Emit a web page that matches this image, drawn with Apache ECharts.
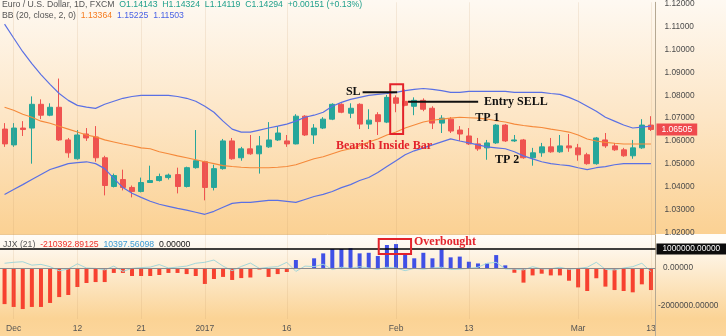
<!DOCTYPE html>
<html>
<head>
<meta charset="utf-8">
<title>EUR/USD daily — Bollinger Bands inside-bar setup</title>
<script src="https://cdn.jsdelivr.net/npm/echarts@6/dist/echarts.min.js"></script>
<style>
  html, body { margin: 0; padding: 0; background: #fff; }
  #chart { width: 726px; height: 336px; }
</style>
</head>
<body>
<div id="chart"></div>
<script>
// ---- trading sessions (EUR/USD, FXCM daily) ----
const dates = [
  '2016-11-30','2016-12-01','2016-12-02','2016-12-05','2016-12-06','2016-12-07','2016-12-08','2016-12-09',
  '2016-12-12','2016-12-13','2016-12-14','2016-12-15','2016-12-16','2016-12-19','2016-12-20','2016-12-21',
  '2016-12-22','2016-12-23','2016-12-27','2016-12-28','2016-12-29','2016-12-30','2017-01-03','2017-01-04',
  '2017-01-05','2017-01-06','2017-01-09','2017-01-10','2017-01-11','2017-01-12','2017-01-13','2017-01-16',
  '2017-01-17','2017-01-18','2017-01-19','2017-01-20','2017-01-23','2017-01-24','2017-01-25','2017-01-26',
  '2017-01-27','2017-01-30','2017-01-31','2017-02-01','2017-02-02','2017-02-03','2017-02-06','2017-02-07',
  '2017-02-08','2017-02-09','2017-02-10','2017-02-13','2017-02-14','2017-02-15','2017-02-16','2017-02-17',
  '2017-02-20','2017-02-21','2017-02-22','2017-02-23','2017-02-24','2017-02-27','2017-02-28','2017-03-01',
  '2017-03-02','2017-03-03','2017-03-06','2017-03-07','2017-03-08','2017-03-09','2017-03-10','2017-03-13'
];

// time-axis labels
const tickDates = ['2016-12-01','2016-12-12','2016-12-21','2017-01-03','2017-01-16','2017-02-01','2017-02-13','2017-03-01','2017-03-13'];
const tickTexts = ['Dec','12','21','2017','16','Feb','13','Mar','13'];

// ---- price bars ----
const open = [
  1.06523,1.05829,1.06567,1.06567,1.07607,1.07130,1.07477,1.06046,1.05222,1.06306,
  1.06176,1.05266,1.04008,1.04312,1.03965,1.03791,1.04182,1.04268,1.04398,1.04528,
  1.04008,1.04832,1.05092,1.03965,1.04789,1.06003,1.05266,1.05656,1.05439,1.05743,
  1.06046,1.06003,1.05873,1.07087,1.06263,1.06567,1.06957,1.07607,1.07217,1.07607,
  1.06740,1.07152,1.06827,1.07889,1.07737,1.07521,1.07781,1.07434,1.06783,1.06957,
  1.06480,1.06220,1.05873,1.05699,1.05916,1.06697,1.06003,1.06046,1.05266,1.05483,
  1.05743,1.05526,1.05786,1.05699,1.05396,1.05006,1.06046,1.05786,1.05613,1.05352,
  1.05699,1.06697
];
const high = [
  1.06783,1.06783,1.06870,1.07954,1.07824,1.07651,1.08735,1.06133,1.06480,1.06567,
  1.06653,1.05352,1.04572,1.04745,1.04051,1.04398,1.04919,1.04572,1.04572,1.04832,
  1.04875,1.06480,1.05136,1.04962,1.06090,1.06133,1.05743,1.06263,1.06220,1.06827,
  1.06653,1.06263,1.07174,1.07130,1.06740,1.07044,1.07651,1.07651,1.07651,1.07651,
  1.07391,1.07260,1.08019,1.07998,1.08258,1.07911,1.07868,1.07521,1.07130,1.07044,
  1.06653,1.06567,1.06133,1.06046,1.06740,1.06740,1.06263,1.06090,1.05699,1.05916,
  1.06133,1.06263,1.06306,1.05873,1.05483,1.06176,1.06350,1.05916,1.05699,1.06046,
  1.06957,1.07087
];
const low = [
  1.05743,1.05743,1.06220,1.05006,1.06957,1.07087,1.06003,1.05266,1.05179,1.06003,
  1.05092,1.03618,1.03965,1.03835,1.03531,1.03748,1.04160,1.04225,1.04312,1.03705,
  1.03965,1.04789,1.03401,1.03835,1.04745,1.05179,1.05136,1.05396,1.04572,1.05699,
  1.06003,1.05743,1.05851,1.06220,1.05873,1.06523,1.06914,1.07217,1.07000,1.06523,
  1.06523,1.06263,1.06783,1.07260,1.07521,1.07130,1.07304,1.06523,1.06350,1.06350,
  1.06003,1.05829,1.05569,1.05179,1.05873,1.05960,1.05960,1.05222,1.04919,1.05309,
  1.05483,1.05483,1.05526,1.05136,1.04962,1.04962,1.05699,1.05569,1.05309,1.05222,
  1.05656,1.06437
];
const close = [
  1.05873,1.06567,1.06502,1.07607,1.07130,1.07477,1.06046,1.05483,1.06263,1.06133,
  1.05266,1.04051,1.04485,1.03965,1.03791,1.04182,1.04268,1.04442,1.04506,1.04008,
  1.04832,1.05136,1.03965,1.04789,1.06003,1.05222,1.05656,1.05439,1.05786,1.06046,
  1.06350,1.05873,1.07087,1.06263,1.06567,1.06957,1.07607,1.07260,1.07434,1.06740,
  1.06914,1.06849,1.07911,1.07651,1.07564,1.07781,1.07391,1.06783,1.07000,1.06437,
  1.06306,1.05873,1.05656,1.05916,1.06697,1.06003,1.06046,1.05266,1.05483,1.05743,
  1.05526,1.05786,1.05699,1.05396,1.05006,1.06133,1.05786,1.05613,1.05352,1.05699,
  1.06697,1.06505
];

// ---- Bollinger Bands (20, close, 2) ----
const bbUpper = [
  1.1112,1.1051,1.0991,1.0939,1.0891,1.0848,1.0808,1.0778,1.0756,1.0748,
  1.0743,1.0761,1.0774,1.0787,1.0795,1.0800,1.0800,1.0800,1.0800,1.0795,
  1.0787,1.0774,1.0752,1.0726,1.0687,1.0652,1.0639,1.0639,1.0648,1.0657,
  1.0665,1.0674,1.0687,1.0704,1.0713,1.0726,1.0752,1.0769,1.0782,1.0791,
  1.0800,1.0804,1.0808,1.0813,1.0821,1.0826,1.0830,1.0826,1.0821,1.0813,
  1.0813,1.0817,1.0817,1.0817,1.0817,1.0817,1.0813,1.0813,1.0813,1.0813,
  1.0808,1.0804,1.0791,1.0774,1.0752,1.0730,1.0704,1.0687,1.0670,1.0657,
  1.0661,1.0665
];
const bbBasis = [
  1.0748,1.0735,1.0717,1.0704,1.0687,1.0678,1.0665,1.0652,1.0639,1.0626,
  1.0618,1.0605,1.0596,1.0587,1.0579,1.0570,1.0566,1.0553,1.0544,1.0535,
  1.0527,1.0518,1.0509,1.0501,1.0492,1.0488,1.0485,1.0483,1.0483,1.0483,
  1.0485,1.0488,1.0496,1.0509,1.0522,1.0531,1.0544,1.0557,1.0566,1.0579,
  1.0596,1.0609,1.0626,1.0639,1.0657,1.0670,1.0683,1.0691,1.0696,1.0700,
  1.0704,1.0702,1.0700,1.0696,1.0689,1.0683,1.0674,1.0668,1.0663,1.0659,
  1.0652,1.0646,1.0639,1.0626,1.0609,1.0600,1.0594,1.0590,1.0587,1.0587,
  1.0587,1.0587
];
const bbLower = [
  1.0366,1.0388,1.0409,1.0431,1.0453,1.0475,1.0488,1.0501,1.0505,1.0509,
  1.0501,1.0479,1.0436,1.0396,1.0371,1.0353,1.0336,1.0323,1.0314,1.0305,
  1.0297,1.0288,1.0279,1.0292,1.0310,1.0327,1.0331,1.0331,1.0336,1.0340,
  1.0340,1.0336,1.0331,1.0344,1.0357,1.0366,1.0379,1.0396,1.0409,1.0427,
  1.0440,1.0462,1.0488,1.0514,1.0540,1.0557,1.0570,1.0583,1.0596,1.0609,
  1.0600,1.0592,1.0583,1.0574,1.0570,1.0566,1.0553,1.0535,1.0522,1.0509,
  1.0501,1.0496,1.0492,1.0483,1.0475,1.0483,1.0488,1.0496,1.0501,1.0501,
  1.0501,1.0501
];

// ---- oscillator (21) ----
const oscHist = [
  -1900000,-2050000,-2160000,-2050000,-2050000,-1840000,-1530000,-1420000,-1000000,-790000,
  -740000,-740000,-260000,-260000,-420000,-420000,-420000,-370000,-260000,-260000,
  -320000,-420000,-840000,-580000,-470000,-630000,-530000,-500000,-80000,-470000,
  -320000,-210393,420000,-50000,510000,770000,1000000,1000000,1040000,770000,
  800000,630000,1210000,1260000,770000,510000,800000,510000,980000,560000,
  600000,330000,240000,240000,680000,140000,-250000,-770000,-390000,-300000,
  -390000,-390000,-670000,-1020000,-1210000,-540000,-980000,-1160000,-1210000,-1280000,
  -860000,-1160000
];
const oscSignal = [
  250000,300000,330000,150000,190000,70000,-150000,-50000,220000,0,
  -20000,-100000,100000,-180000,-20000,20000,50000,180000,0,50000,
  100000,250000,300000,420000,100000,-140000,80000,260000,-20000,40000,
  70000,300000,-180000,100000,70000,200000,-80000,40000,-20000,70000,
  0,-70000,40000,0,-140000,-20000,-60000,0,40000,-80000,
  -60000,-20000,40000,250000,300000,-50000,-60000,-100000,70000,-50000,
  -40000,40000,-70000,-20000,40000,300000,-70000,-100000,0,70000,
  250000,-190000
];

// axis ticks and reference levels
const priceTicks = [1.02, 1.03, 1.04, 1.05, 1.06, 1.07, 1.08, 1.09, 1.10, 1.11, 1.12];
const oscTicks = [0, -2000000];
const lastClose = 1.06505;
const overboughtLevel = 1000000;

// ---- build the chart ----
const UP = '#26a69a', DOWN = '#ef5350';
const BAND = '#5a70e4', BASIS = '#f5893a';
const SANS = '"Liberation Sans", Arial, sans-serif';
const SERIF = '"Liberation Serif", "Times New Roman", serif';
const candles = dates.map((d, i) => [open[i], close[i], low[i], high[i]]);
const gridLines = tickDates.map(d => ({ xAxis: d }));
const faint = { color: 'rgba(190,150,100,0.16)', width: 1, type: 'solid' };

const chart = echarts.init(document.getElementById('chart'), null, { renderer: 'canvas' });

const option = {
  animation: false,
  backgroundColor: '#fdf6ec',
  title: [
    {
      left: 2, top: 0, padding: 0,
      text: '{n|Euro / U.S. Dollar, 1D, FXCM}  {v|O1.14143}  {v|H1.14324}  {v|L1.14119}  {v|C1.14294}  {v|+0.00151 (+0.13%)}',
      textStyle: {
        fontSize: 8.7, fontFamily: SANS, fontWeight: 'normal', lineHeight: 10,
        rich: {
          n: { color: '#555', fontSize: 8.7, fontFamily: SANS, lineHeight: 10 },
          v: { color: '#21a08c', fontSize: 8.7, fontFamily: SANS, lineHeight: 10 }
        }
      }
    },
    {
      left: 2, top: 11, padding: 0,
      text: '{n|BB (20, close, 2, 0)}  {o|1.13364}  {b|1.15225}  {b|1.11503}',
      textStyle: {
        fontSize: 8.7, fontFamily: SANS, fontWeight: 'normal', lineHeight: 10,
        rich: {
          n: { color: '#555', fontSize: 8.7, fontFamily: SANS, lineHeight: 10 },
          o: { color: '#f57d22', fontSize: 8.7, fontFamily: SANS, lineHeight: 10 },
          b: { color: '#4a63e6', fontSize: 8.7, fontFamily: SANS, lineHeight: 10 }
        }
      }
    },
    {
      left: 3, top: 240, padding: 0,
      text: '{n|JJX (21)}  {r|-210392.89125}  {c|10397.56098}  {k|0.00000}',
      textStyle: {
        fontSize: 8.7, fontFamily: SANS, fontWeight: 'normal', lineHeight: 10,
        rich: {
          n: { color: '#555', fontSize: 8.7, fontFamily: SANS, lineHeight: 10 },
          r: { color: '#f0302a', fontSize: 8.7, fontFamily: SANS, lineHeight: 10 },
          c: { color: '#3b9bd4', fontSize: 8.7, fontFamily: SANS, lineHeight: 10 },
          k: { color: '#111', fontSize: 8.7, fontFamily: SANS, lineHeight: 10 }
        }
      }
    }
  ],
  grid: [
    { left: -8, right: 70.5, top: 0, height: 234 },
    { left: -8, right: 70.5, top: 234, height: 85 }
  ],
  xAxis: [
    {
      gridIndex: 0, type: 'category', data: dates, boundaryGap: true,
      axisLabel: { show: false }, axisTick: { show: false },
      axisLine: { show: true, lineStyle: { color: '#ecc894', width: 1 } },
      splitLine: { show: false }
    },
    {
      gridIndex: 1, type: 'category', data: dates, boundaryGap: true,
      axisTick: { show: false },
      axisLine: { show: true, lineStyle: { color: '#d8bf98', width: 1 } },
      splitLine: { show: false },
      axisLabel: {
        interval: (idx, val) => tickDates.indexOf(val) >= 0,
        formatter: val => tickTexts[tickDates.indexOf(val)],
        color: '#555', fontSize: 8.5, fontFamily: SANS, margin: 5
      }
    }
  ],
  yAxis: [
    {
      gridIndex: 0, type: 'value', position: 'right', scale: true,
      min: 1.01927, max: 1.12074,
      splitLine: { show: false }, axisTick: { show: false },
      axisLine: { show: true, lineStyle: { color: '#b5a892', width: 1 } },
      axisLabel: {
        customValues: priceTicks,
        showMinLabel: true, showMaxLabel: true, hideOverlap: false,
        formatter: v => v.toFixed(5),
        color: '#4b4b4b', fontSize: 8.3, fontFamily: SANS, margin: 9
      }
    },
    {
      gridIndex: 1, type: 'value', position: 'right',
      min: -2684211, max: 1789474,
      splitLine: { show: false }, axisTick: { show: false },
      axisLine: { show: true, lineStyle: { color: '#b5a892', width: 1 } },
      axisLabel: {
        customValues: oscTicks,
        showMinLabel: true, showMaxLabel: true, hideOverlap: false,
        formatter: v => (v < 0 ? '{q|' : '{p|') + v.toFixed(5) + '}',
        margin: 2.5,
        rich: {
          p: { color: '#4b4b4b', fontSize: 8.3, fontFamily: SANS, padding: [0, 0, 0, 5] },
          q: { color: '#4b4b4b', fontSize: 8.3, fontFamily: SANS }
        }
      }
    }
  ],
  series: [
    {
      name: 'EURUSD', type: 'candlestick', xAxisIndex: 0, yAxisIndex: 0,
      data: candles, barWidth: 5.5,
      itemStyle: { color: UP, color0: DOWN, borderColor: UP, borderColor0: DOWN, borderWidth: 1 },
      markLine: {
        silent: true, symbol: ['none', 'none'], animation: false, precision: 5,
        label: { show: false },
        lineStyle: faint,
        data: gridLines.concat([{
          yAxis: lastClose,
          lineStyle: { color: 'rgba(0,0,0,0)', width: 1 },
          label: {
            show: true, position: 'end', distance: 1,
            formatter: lastClose.toFixed(5),
            backgroundColor: '#ef4a4e', color: '#fff',
            fontSize: 8.5, fontFamily: SANS, padding: [2, 5, 1, 5]
          }
        }])
      }
    },
    {
      name: 'BB upper', type: 'line', xAxisIndex: 0, yAxisIndex: 0, data: bbUpper,
      symbol: 'none', lineStyle: { color: BAND, width: 1.2 }, z: 3
    },
    {
      name: 'BB basis', type: 'line', xAxisIndex: 0, yAxisIndex: 0, data: bbBasis,
      symbol: 'none', lineStyle: { color: BASIS, width: 1.1 }, z: 3
    },
    {
      name: 'BB lower', type: 'line', xAxisIndex: 0, yAxisIndex: 0, data: bbLower,
      symbol: 'none', lineStyle: { color: BAND, width: 1.2 }, z: 3
    },
    {
      name: 'signal', type: 'line', xAxisIndex: 1, yAxisIndex: 1, data: oscSignal,
      symbol: 'none', lineStyle: { color: '#a3d7da', width: 1 },
      markLine: {
        silent: true, symbol: ['none', 'none'], animation: false, precision: 0,
        label: { show: false },
        lineStyle: faint,
        data: gridLines.concat([{ yAxis: 0, lineStyle: { color: '#8a8b90', width: 1, type: 'solid' } }])
      }
    },
    {
      name: 'histogram', type: 'bar', xAxisIndex: 1, yAxisIndex: 1, data: oscHist,
      barWidth: 4,
      itemStyle: { color: p => (p.value >= 0 ? '#4050e6' : '#f7412f') },
      markLine: {
        silent: true, symbol: ['none', 'none'], animation: false, precision: 0,
        data: [{
          yAxis: overboughtLevel,
          lineStyle: { color: '#000', width: 1.5, type: 'solid' },
          label: {
            show: true, position: 'end', distance: 1,
            formatter: overboughtLevel.toFixed(5),
            backgroundColor: '#0c0c0c', color: '#fff',
            fontSize: 8.3, fontFamily: SANS, padding: [2, 6, 1, 6]
          }
        }]
      }
    }
  ],
  graphic: [
    {
      id: 'bgMain', type: 'rect', z: -10, silent: true,
      shape: { x: 0, y: 0, width: 726, height: 234 },
      style: { fill: new echarts.graphic.LinearGradient(0, 0, 0, 1, [
        { offset: 0, color: '#fef9f2' },
        { offset: 0.5, color: '#fde6c6' },
        { offset: 1, color: '#fbd193' }
      ]) }
    },
    {
      id: 'bgOsc', type: 'rect', z: -10, silent: true,
      shape: { x: 0, y: 234, width: 726, height: 102 },
      style: { fill: new echarts.graphic.LinearGradient(0, 0, 0, 1, [
        { offset: 0, color: '#fffdf9' },
        { offset: 0.15, color: '#fef6ea' },
        { offset: 0.83, color: '#fbd395' },
        { offset: 1, color: '#fcd69b' }
      ]) }
    }
  ]
};

chart.setOption(option);

// ---- drawn annotations, anchored to bar index / price ----
const notes = {
  insideBox: { from: 42.36, to: 43.78, top: 1.0848, bottom: 1.0631 },
  stopLoss:  { from: 39.33, to: 43.12, price: 1.0813, textAt: 39.11, text: 'SL' },
  entry:     { from: 44.32, to: 52.02, price: 1.0772, textAt: 52.67, text: 'Entry SELL' },
  tp1:       { at: 51.7, price: 1.0702, text: 'TP 1' },
  tp2:       { at: 53.87, price: 1.0516, text: 'TP 2' },
  pattern:   { at: 36.4, price: 1.0579, text: 'Bearish Inside Bar' },
  obBox:     { from: 41.1, to: 44.65, top: 1526000, bottom: 737000 },
  obText:    { at: 44.97, value: 1395000, text: 'Overbought' }
};

function pt(gridIndex, idx, v) {
  const a = chart.convertToPixel({ gridIndex }, [0, v]);
  const b = chart.convertToPixel({ gridIndex }, [1, v]);
  return [a[0] + (b[0] - a[0]) * idx, a[1]];
}
function label(id, p, text, color, align) {
  return {
    id, type: 'text', z: 100, silent: true, x: p[0], y: p[1],
    style: { text, fill: color, font: 'bold 12px ' + SERIF, align: align || 'left', verticalAlign: 'middle' }
  };
}
function box(id, g, n) {
  const a = pt(g, n.from, n.top), b = pt(g, n.to, n.bottom);
  return {
    id, type: 'rect', z: 100, silent: true,
    shape: { x: a[0], y: a[1], width: b[0] - a[0], height: b[1] - a[1] },
    style: { fill: 'none', stroke: '#e3232b', lineWidth: 2 }
  };
}
function hline(id, g, n) {
  const a = pt(g, n.from, n.price), b = pt(g, n.to, n.price);
  return {
    id, type: 'line', z: 100, silent: true,
    shape: { x1: a[0], y1: a[1], x2: b[0], y2: b[1] },
    style: { stroke: '#111', lineWidth: 2 }
  };
}

const rightEdge = pt(1, 71.5, -2684211);
const paneSplit = pt(1, 71.5, 1789474);
chart.setOption({
  graphic: [
    box('insideBox', 0, notes.insideBox),
    hline('slLine', 0, notes.stopLoss),
    label('slText', pt(0, notes.stopLoss.textAt, notes.stopLoss.price + 0.00025), notes.stopLoss.text, '#111', 'right'),
    hline('entryLine', 0, notes.entry),
    label('entryText', pt(0, notes.entry.textAt, notes.entry.price), notes.entry.text, '#111'),
    label('tp1Text', pt(0, notes.tp1.at, notes.tp1.price), notes.tp1.text, '#111'),
    label('tp2Text', pt(0, notes.tp2.at, notes.tp2.price), notes.tp2.text, '#111'),
    label('patternText', pt(0, notes.pattern.at, notes.pattern.price), notes.pattern.text, '#e3232b'),
    box('obBox', 1, notes.obBox),
    label('obText', pt(1, notes.obText.at, notes.obText.value), notes.obText.text, '#e3232b'),
    {
      // the oscillator pane sits over the lowest price label on the scale
      id: 'scaleMask', type: 'rect', z: 60, silent: true,
      shape: { x: rightEdge[0] + 1, y: paneSplit[1] + 1, width: 726 - rightEdge[0], height: 8 },
      style: { fill: '#fffdf9' }
    },
    {
      id: 'axisTail', type: 'line', z: 5, silent: true,
      shape: { x1: rightEdge[0], y1: rightEdge[1], x2: rightEdge[0], y2: 336 },
      style: { stroke: '#b5a892', lineWidth: 1 }
    }
  ]
});
</script>
</body>
</html>
